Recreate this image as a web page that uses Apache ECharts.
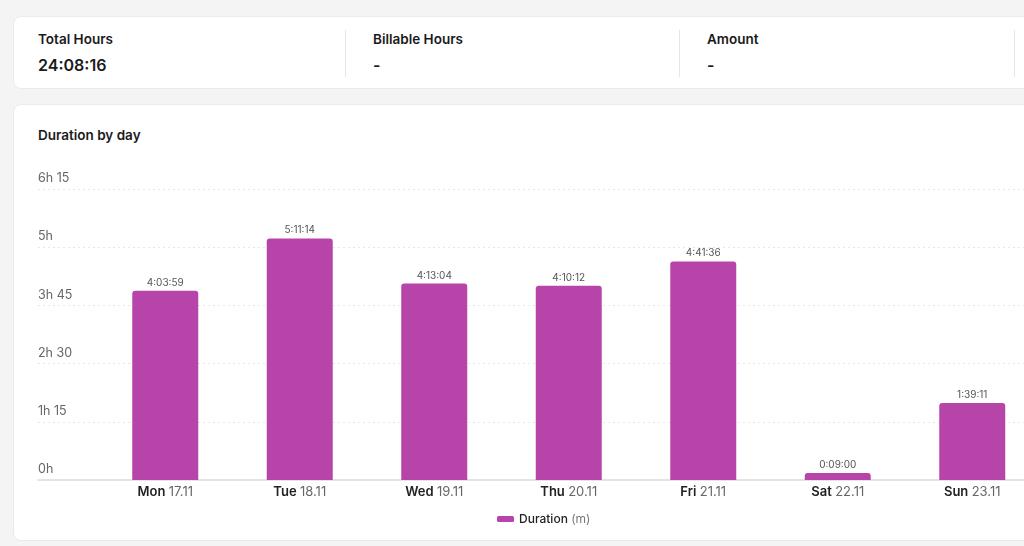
<!DOCTYPE html>
<html>
<head>
<meta charset="utf-8">
<script src="https://cdn.jsdelivr.net/npm/echarts@6/dist/echarts.min.js"></script>
<style>
  html, body { margin: 0; padding: 0; }
  body {
    width: 1024px; height: 546px; overflow: hidden; position: relative;
    background: #f4f4f4; font-family: Inter, "Noto Sans", sans-serif; color: #1a1a1a;
  }
  .card {
    position: absolute; left: 13px; width: 1100px; background: #fff;
    border: 1px solid #ebebeb; border-radius: 8px; box-sizing: border-box;
  }
  #stats { top: 16px; height: 73px; }
  #chartCard { top: 104px; height: 437px; }
  .stat { position: absolute; top: 0; }
  .stat .label { position: absolute; top: 14px; font-size: 13.5px; font-weight: 600; white-space: nowrap; }
  .stat .value { position: absolute; top: 38px; font-size: 16px; font-weight: 600; white-space: nowrap; }
  .divider { position: absolute; top: 13px; width: 1px; height: 47px; background: #e6e6e6; }
  #title { position: absolute; left: 24px; top: 22px; font-size: 13.5px; font-weight: 600; }
  #chart { position: absolute; left: 0; top: 0; width: 1100px; height: 546px; }
</style>
</head>
<body>
<div class="card" id="stats">
  <div class="stat" style="left:24px"><div class="label">Total Hours</div><div class="value">24:08:16</div></div>
  <div class="divider" style="left:331px"></div>
  <div class="stat" style="left:359px"><div class="label">Billable Hours</div><div class="value">-</div></div>
  <div class="divider" style="left:665px"></div>
  <div class="stat" style="left:693px"><div class="label">Amount</div><div class="value">-</div></div>
  <div class="divider" style="left:1000px"></div>
</div>
<div class="card" id="chartCard">
  <div id="title">Duration by day</div>
</div>
<div id="chart"></div>
<script>
// days on the x axis
const dayNames = ['Mon', 'Tue', 'Wed', 'Thu', 'Fri', 'Sat', 'Sun'];
const dayDates = ['17.11', '18.11', '19.11', '20.11', '21.11', '22.11', '23.11'];
// tracked duration per day, in seconds
const durationSec = [14639, 18674, 15184, 15012, 16896, 540, 5951];
// y axis ticks (minutes) and their labels
const yTicks = [0, 75, 150, 225, 300, 375];
const yTickLabels = ['0h', '1h 15', '2h 30', '3h 45', '5h', '6h 15'];

function fmt(sec) {
  const h = Math.floor(sec / 3600);
  const m = Math.floor((sec % 3600) / 60);
  const s = sec % 60;
  return h + ':' + String(m).padStart(2, '0') + ':' + String(s).padStart(2, '0');
}

const categories = dayNames.map((d, i) => d + ' ' + dayDates[i]);
const minutes = durationSec.map(s => s / 60);

const chart = echarts.init(document.getElementById('chart'), null, { renderer: 'canvas' });

const option = {
  animation: false,
  textStyle: { fontFamily: 'Inter' },
  grid: [
    { left: 98, top: 189, width: 941.5, height: 291 },
    { left: 38, top: 189, right: 0, height: 291 }
  ],
  xAxis: [{
    type: 'category',
    gridIndex: 0,
    data: categories,
    axisLine: { show: false },
    axisTick: { show: false },
    axisLabel: {
      margin: 6,
      formatter: function (v) {
        const p = v.split(' ');
        return '{d|' + p[0] + '} {n|' + p[1] + '}';
      },
      rich: {
        d: { fontSize: 13, fontWeight: 600, color: '#222', fontFamily: 'Inter' },
        n: { fontSize: 13, color: '#666', fontFamily: 'Inter' }
      }
    }
  }, {
    type: 'value',
    gridIndex: 1,
    min: 0, max: 1,
    axisLine: { show: true, lineStyle: { color: '#e4e4e4', width: 2 } },
    axisTick: { show: false },
    axisLabel: { show: false },
    splitLine: { show: false }
  }],
  yAxis: [{
    type: 'value',
    gridIndex: 0,
    min: 0, max: 375, interval: 75,
    axisLine: { show: false },
    axisTick: { show: false },
    axisLabel: { show: false },
    splitLine: { show: false }
  }, {
    type: 'value',
    gridIndex: 1,
    min: 0, max: 375, interval: 75,
    axisLine: { show: false },
    axisTick: { show: false },
    axisLabel: {
      inside: true,
      margin: 0,
      align: 'left',
      verticalAlign: 'bottom',
      padding: [0, 0, 4, 0],
      color: '#666',
      fontSize: 12.5,
      fontFamily: 'Inter',
      formatter: function (v) {
        const i = yTicks.indexOf(v);
        return i >= 0 ? yTickLabels[i] : '';
      }
    },
    splitLine: { show: true, lineStyle: { color: '#e6e6e6', type: [2, 3], width: 1 } }
  }],
  legend: {
    left: 497,
    top: 513,
    padding: 0,
    itemWidth: 17,
    itemHeight: 6,
    itemGap: 10,
    icon: 'roundRect',
    data: ['Duration'],
    formatter: function () { return '{a|Duration} {b|(m)}'; },
    textStyle: {
      rich: {
        a: { fontSize: 12, color: '#222', fontWeight: 500, fontFamily: 'Inter' },
        b: { fontSize: 12, color: '#777', fontFamily: 'Inter' }
      }
    }
  },
  series: [{
    name: 'Duration',
    type: 'bar',
    xAxisIndex: 0,
    yAxisIndex: 0,
    data: minutes,
    barWidth: 66,
    itemStyle: { color: '#b744a8', borderRadius: [3, 3, 0, 0] },
    label: {
      show: true,
      position: 'top',
      distance: 3,
      fontSize: 10,
      color: '#555',
      fontFamily: 'Inter',
      formatter: function (p) { return fmt(durationSec[p.dataIndex]); }
    }
  }]
};

chart.setOption(option);
</script>
</body>
</html>
